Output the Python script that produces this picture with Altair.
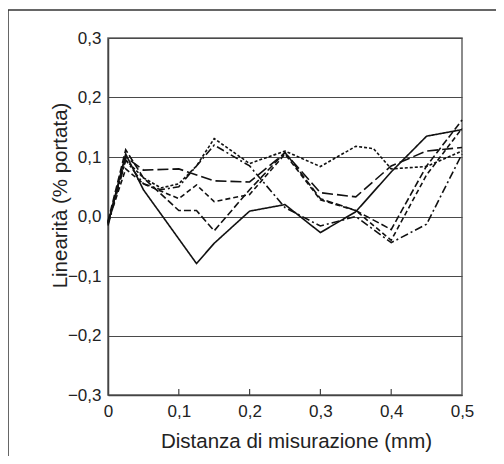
import altair as alt
import pandas as pd

# series data (x in mm, y in % portata)
s1_x = [0, 0.025, 0.05, 0.125, 0.15, 0.2, 0.25, 0.3, 0.35, 0.4, 0.45, 0.5]
s1_y = [-0.012, 0.105, 0.045, -0.079, -0.045, 0.009, 0.020, -0.027, 0.008, 0.075, 0.135, 0.146]

s2_x = [0, 0.025, 0.05, 0.1, 0.15, 0.2, 0.25, 0.3, 0.35, 0.4, 0.45, 0.5]
s2_y = [-0.012, 0.100, 0.078, 0.080, 0.060, 0.058, 0.107, 0.040, 0.033, 0.085, 0.110, 0.116]

s3_x = [0, 0.025, 0.05, 0.1, 0.125, 0.15, 0.2, 0.25, 0.3, 0.35, 0.4, 0.45, 0.5]
s3_y = [-0.008, 0.112, 0.065, 0.010, 0.010, -0.024, 0.045, 0.108, 0.030, 0.010, -0.022, 0.085, 0.162]

s4_x = [0, 0.025, 0.05, 0.075, 0.1, 0.125, 0.15, 0.2, 0.25, 0.3, 0.35, 0.375, 0.4, 0.45, 0.5]
s4_y = [-0.010, 0.095, 0.065, 0.048, 0.055, 0.085, 0.131, 0.089, 0.110, 0.084, 0.118, 0.114, 0.080, 0.084, 0.110]

s5_x = [0, 0.025, 0.05, 0.075, 0.1, 0.125, 0.15, 0.2, 0.25, 0.3, 0.35, 0.4, 0.45, 0.5]
s5_y = [-0.015, 0.095, 0.055, 0.045, 0.050, 0.085, 0.120, 0.085, 0.015, -0.016, 0.000, -0.044, -0.013, 0.105]

s6_x = [0, 0.025, 0.05, 0.1, 0.125, 0.15, 0.2, 0.25, 0.3, 0.35, 0.4, 0.45, 0.5]
s6_y = [-0.010, 0.080, 0.055, 0.030, 0.053, 0.025, 0.037, 0.105, 0.028, 0.010, -0.040, 0.070, 0.148]

series = [
    ("S1", s1_x, s1_y, []),
    ("S2", s2_x, s2_y, [11, 4]),
    ("S3", s3_x, s3_y, [7, 3]),
    ("S4", s4_x, s4_y, [3, 2]),
    ("S5", s5_x, s5_y, [8, 3, 2, 3]),
    ("S6", s6_x, s6_y, [5, 3]),
]

x_ticks = [0, 0.1, 0.2, 0.3, 0.4, 0.5]
inner_ticks = [0.1, 0.2, 0.3, 0.4]
y_ticks = [-0.3, -0.2, -0.1, 0.0, 0.1, 0.2, 0.3]

FONT = "Liberation Sans"
xscale = alt.Scale(domain=[0, 0.5], nice=False, zero=False)
yscale = alt.Scale(domain=[-0.3, 0.3], nice=False, zero=False)

x_axis = alt.Axis(
    title="Distanza di misurazione (mm)", values=x_ticks, grid=False,
    labelExpr="datum.value == 0 ? '0' : replace(format(datum.value, '.1f'), '.', ',')",
    ticks=False, labelPadding=8, labelFlush=False,
    titleX=188, titleY=46, titleBaseline="middle", titleAlign="center",
    labelFontSize=17, titleFontSize=20.5, labelFont=FONT, titleFont=FONT,
    labelColor="#222", titleColor="#222", titleFontWeight="normal",
    domainColor="#444", domainWidth=1.5,
)
y_axis = alt.Axis(
    title="Linearità (% portata)", values=y_ticks, grid=True, gridColor="#4a4a4a", gridWidth=1.2,
    labelExpr="replace(replace(format(datum.value, '.1f'), '.', ','), '-', '−')",
    ticks=False, labelPadding=7, labelFlush=False,
    titleX=-48, titleY=157, titleBaseline="middle", titleAngle=-90, titleAlign="center",
    labelFontSize=17, titleFontSize=20.5, labelFont=FONT, titleFont=FONT,
    labelColor="#222", titleColor="#222", titleFontWeight="normal",
    domainColor="#444", domainWidth=1.5,
)

rows = []
for name, xs, ys, dash in series:
    for xv, yv in zip(xs, ys):
        rows.append({"x": xv, "y": yv, "s": name})
df = pd.DataFrame(rows)

names = [s[0] for s in series]
dashes = [s[3] if s[3] else [1, 0] for s in series]

lines = alt.Chart(df).mark_line(color="#111", strokeWidth=1.6, clip=False).encode(
    x=alt.X("x:Q", scale=xscale, axis=x_axis),
    y=alt.Y("y:Q", scale=yscale, axis=y_axis),
    detail="s:N",
    strokeDash=alt.StrokeDash("s:N", scale=alt.Scale(domain=names, range=dashes), legend=None),
)

# inward x ticks
tick_df = pd.DataFrame({"x": inner_ticks})
ticks = alt.Chart(tick_df).mark_rule(color="#444", strokeWidth=1.2).encode(
    x=alt.X("x:Q", scale=xscale, axis=x_axis), y=alt.value(357), y2=alt.value(351))

# outer frame (decorative)
frame_df = pd.DataFrame({"a": [0]})
top_rule = alt.Chart(frame_df).mark_rule(color="#333", strokeWidth=1.5, clip=False).encode(
    x=alt.value(-100), x2=alt.value(600), y=alt.value(-28))
left_rule = alt.Chart(frame_df).mark_rule(color="#333", strokeWidth=1.5, clip=False).encode(
    x=alt.value(-100), y=alt.value(-28), y2=alt.value(500))

chart = alt.layer(lines, ticks, top_rule, left_rule).properties(
    width=354, height=357,
    autosize=alt.AutoSizeParams(type="none"),
    padding={"left": 100, "top": 30, "right": 34, "bottom": 61},
    background="white",
).configure_view(stroke="#666", strokeWidth=1.5)

chart.save("out.html", embed_options={"renderer": "svg", "actions": False})
